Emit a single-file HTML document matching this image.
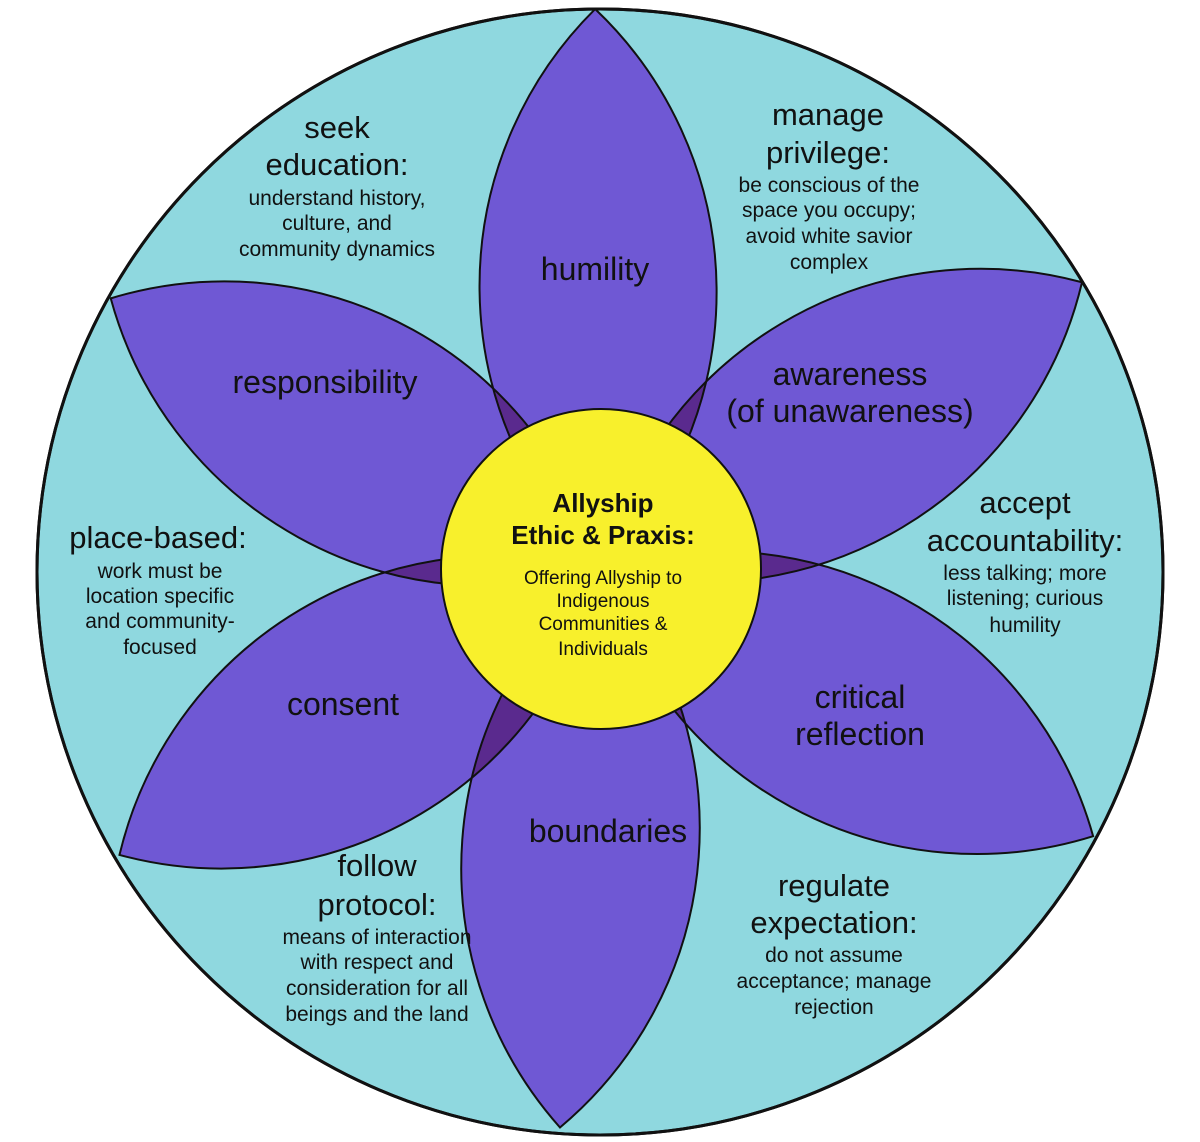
<!DOCTYPE html>
<html><head><meta charset="utf-8"><style>
html,body{margin:0;padding:0;background:#fff;}
svg{display:block;}
text{font-family:"Liberation Sans",sans-serif;fill:#111;text-anchor:middle;}
.p{font-size:32px;}
.h{font-size:31px;}
.s{font-size:21px;}
</style></head><body>
<svg width="1200" height="1142" viewBox="0 0 1200 1142" xmlns="http://www.w3.org/2000/svg">
<defs>
<path id="pt" d="M0,0 A390,390 0 0,1 560,0 A390,390 0 0,1 0,0 Z"/>
<g id="p0"><use href="#pt" transform="translate(601,569) rotate(-90.6)"/></g>
<g id="p1"><use href="#pt" transform="translate(601,569) rotate(-30.8)"/></g>
<g id="p2"><use href="#pt" transform="translate(601,569) rotate(28.5)"/></g>
<g id="p3"><use href="#pt" transform="translate(601,569) rotate(94.2)"/></g>
<g id="p4"><use href="#pt" transform="translate(601,569) rotate(149.3)"/></g>
<g id="p5"><use href="#pt" transform="translate(601,569) rotate(208.9)"/></g>
<clipPath id="c0"><use href="#pt" transform="translate(601,569) rotate(-90.6)"/></clipPath>
<clipPath id="c1"><use href="#pt" transform="translate(601,569) rotate(-30.8)"/></clipPath>
<clipPath id="c2"><use href="#pt" transform="translate(601,569) rotate(28.5)"/></clipPath>
<clipPath id="c3"><use href="#pt" transform="translate(601,569) rotate(94.2)"/></clipPath>
<clipPath id="c4"><use href="#pt" transform="translate(601,569) rotate(149.3)"/></clipPath>
<clipPath id="c5"><use href="#pt" transform="translate(601,569) rotate(208.9)"/></clipPath>
</defs>
<circle cx="600" cy="572" r="563" fill="#8fd8df" stroke="#111" stroke-width="3"/>
<g fill="#6f58d4">
<use href="#p0"/><use href="#p1"/><use href="#p2"/><use href="#p3"/><use href="#p4"/><use href="#p5"/>
</g>
<g fill="#5a2a8e">
<use href="#p1" clip-path="url(#c0)"/>
<use href="#p2" clip-path="url(#c1)"/>
<use href="#p3" clip-path="url(#c2)"/>
<use href="#p4" clip-path="url(#c3)"/>
<use href="#p5" clip-path="url(#c4)"/>
<use href="#p0" clip-path="url(#c5)"/>
</g>
<g fill="none" stroke="#111" stroke-width="2">
<use href="#p0"/><use href="#p1"/><use href="#p2"/><use href="#p3"/><use href="#p4"/><use href="#p5"/>
</g>
<circle cx="600" cy="572" r="563" fill="none" stroke="#111" stroke-width="3"/>
<circle cx="601" cy="569" r="160" fill="#f8f02c" stroke="#111" stroke-width="2"/>

<text class="p" x="595" y="280">humility</text>
<text class="p" x="850" y="385">awareness</text>
<text class="p" x="850" y="422">(of unawareness)</text>
<text class="p" x="860" y="708">critical</text>
<text class="p" x="860" y="745">reflection</text>
<text class="p" x="608" y="842">boundaries</text>
<text class="p" x="343" y="715">consent</text>
<text class="p" x="325" y="393">responsibility</text>

<text class="h" x="337" y="138">seek</text>
<text class="h" x="337" y="175">education:</text>
<text class="s" x="337" y="205">understand history,</text>
<text class="s" x="337" y="230">culture, and</text>
<text class="s" x="337" y="256">community dynamics</text>

<text class="h" x="828" y="125">manage</text>
<text class="h" x="828" y="163">privilege:</text>
<text class="s" x="829" y="192">be conscious of the</text>
<text class="s" x="829" y="217">space you occupy;</text>
<text class="s" x="829" y="243">avoid white savior</text>
<text class="s" x="829" y="269">complex</text>

<text class="h" x="1025" y="513">accept</text>
<text class="h" x="1025" y="551">accountability:</text>
<text class="s" x="1025" y="580">less talking; more</text>
<text class="s" x="1025" y="605">listening; curious</text>
<text class="s" x="1025" y="632">humility</text>

<text class="h" x="158" y="548">place-based:</text>
<text class="s" x="160" y="578">work must be</text>
<text class="s" x="160" y="603">location specific</text>
<text class="s" x="160" y="628">and community-</text>
<text class="s" x="160" y="654">focused</text>

<text class="h" x="377" y="876">follow</text>
<text class="h" x="377" y="915">protocol:</text>
<text class="s" x="377" y="944">means of interaction</text>
<text class="s" x="377" y="969">with respect and</text>
<text class="s" x="377" y="995">consideration for all</text>
<text class="s" x="377" y="1021">beings and the land</text>

<text class="h" x="834" y="896">regulate</text>
<text class="h" x="834" y="933">expectation:</text>
<text class="s" x="834" y="962">do not assume</text>
<text class="s" x="834" y="988">acceptance; manage</text>
<text class="s" x="834" y="1014">rejection</text>

<text x="603" y="512" style="font-size:26px;font-weight:bold">Allyship</text>
<text x="603" y="544" style="font-size:26px;font-weight:bold">Ethic &amp; Praxis:</text>
<text x="603" y="584" style="font-size:19px">Offering Allyship to</text>
<text x="603" y="607" style="font-size:19px">Indigenous</text>
<text x="603" y="630" style="font-size:19px">Communities &amp;</text>
<text x="603" y="655" style="font-size:19px">Individuals</text>
</svg>
</body></html>
